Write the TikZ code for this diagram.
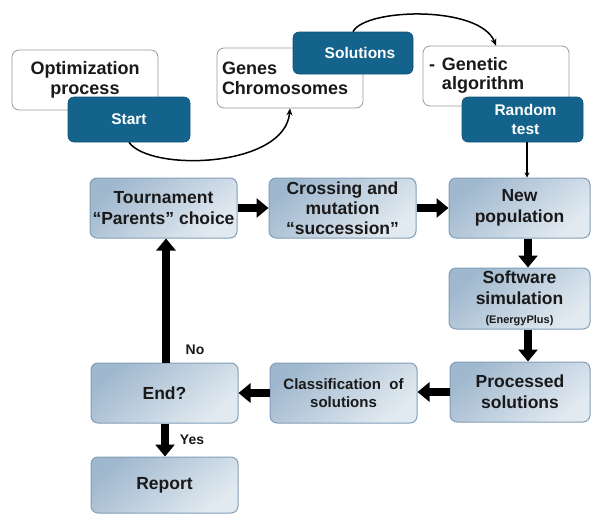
\documentclass[tikz,border=0pt]{standalone}
\usepackage{fontspec}
\setmainfont{Liberation Sans}
\usetikzlibrary{arrows.meta}
\definecolor{dblue}{RGB}{20,99,140}
\definecolor{flowA}{RGB}{160,184,206}
\definecolor{flowB}{RGB}{226,234,241}
\definecolor{flowBorder}{RGB}{128,158,184}
\definecolor{txt}{RGB}{25,25,25}
\begin{document}
\begin{tikzpicture}[x=1pt,y=-1pt,
  whitebox/.style={draw=black!40, line width=0.8pt, rounded corners=7pt, fill=white,
    inner sep=0pt, text=txt, font=\fontsize{18}{20}\selectfont\bfseries},
  darkbox/.style={draw=dblue!85!black, line width=0.6pt, fill=dblue, rounded corners=6pt,
    inner sep=0pt, text=white, align=center, font=\fontsize{15.5}{19}\selectfont\bfseries},
  flowbox/.style={draw=flowBorder, line width=1pt, rounded corners=7pt,
    top color=flowA, bottom color=flowB, shading angle=40,
    inner sep=0pt, align=center, text=txt, font=\fontsize{17.5}{21}\selectfont\bfseries},
  bigarrow/.style={line width=8pt, -{Triangle[width=19pt,length=12pt]}},
  curvearrow/.style={line width=1.5pt, -{Stealth[length=7pt,width=6pt]}},
  thinarrow/.style={line width=1.3pt, -{Stealth[length=5pt,width=5pt]}},
  lbl/.style={inner sep=0pt, text=txt, font=\fontsize{14}{16}\selectfont\bfseries}
]
\useasboundingbox (0,0) rectangle (592,515);

% top row: white boxes
\node[whitebox, minimum width=146pt, minimum height=60pt, align=center] (opt) at (85,80)
  {Optimization\\process};
\node[whitebox, minimum width=146pt, minimum height=60pt, text width=136pt, align=left] (genes) at (290,78)
  {Genes\\Chromosomes};
\node[whitebox, minimum width=146pt, minimum height=60pt, text width=134pt, align=left] (gen) at (496,76)
  {\begin{tabular}{@{}l@{\hspace{7pt}}l@{}}-&Genetic\\[-1pt]&algorithm\end{tabular}};

% dark boxes
\node[darkbox, minimum width=122pt, minimum height=45pt] (start) at (129,119.5) {Start};
\node[darkbox, minimum width=120pt, minimum height=42pt] (sol) at (353,53) {\hspace{14pt}Solutions};
\node[darkbox, minimum width=121pt, minimum height=45pt] (rand) at (522.5,119.5) {\hspace{6pt}Random\\\hspace{6pt}test};

% curved connectors
\draw[curvearrow] (start.south) .. controls (150,172) and (285,168) .. (genes.south);
\draw[curvearrow] (sol.north) .. controls (365,8) and (480,5) .. (gen.north);

% flow boxes
\node[flowbox, minimum width=147pt, minimum height=60pt] (tour) at (163.5,208)
  {Tournament\\“Parents” choice};
\node[flowbox, minimum width=147pt, minimum height=60pt] (cross) at (342.5,208)
  {Crossing and\\[-1pt]mutation\\[-1pt]“succession”};
\node[flowbox, minimum width=141pt, minimum height=60pt] (newp) at (519.5,208)
  {New\\population};
\node[flowbox, minimum width=141pt, minimum height=61pt] (soft) at (519.5,298.5)
  {Software\\simulation\\[-2pt]{\fontsize{11}{12}\selectfont (EnergyPlus)}};
\node[flowbox, minimum width=140pt, minimum height=60pt] (proc) at (520,392)
  {Processed\\solutions};
\node[flowbox, minimum width=147pt, minimum height=60pt,
  font=\fontsize{15}{17.5}\selectfont\bfseries] (class) at (343.5,393)
  {Classification\ \ of\\solutions};
\node[flowbox, minimum width=147pt, minimum height=60pt] (endq) at (164.5,393) {End?};
\node[flowbox, minimum width=147pt, minimum height=56pt] (report) at (164.5,485) {Report};

% connectors
\draw[thinarrow] ([xshift=4.5pt]rand.south) -- ([xshift=4.5pt]rand.south |- newp.north);
\draw[bigarrow] (tour.east) -- (cross.west);
\draw[bigarrow] (cross.east) -- (newp.west);
\draw[bigarrow] ([xshift=8.5pt]newp.south) -- ([xshift=8.5pt]soft.north);
\draw[bigarrow] ([xshift=8.5pt]soft.south) -- ([xshift=8pt]proc.north);
\draw[bigarrow] (proc.west) -- (proc.west -| class.east);
\draw[bigarrow] (class.west) -- (class.west -| endq.east);
\draw[bigarrow] ([xshift=1.5pt]endq.north) -- ([xshift=1.5pt]endq.north |- tour.south);
\draw[bigarrow] ([xshift=0.5pt]endq.south) -- ([xshift=0.5pt]report.north);

% labels
\node[lbl] (no) at (195,350) {No};
\node[lbl] (yes) at (192,440) {Yes};
\end{tikzpicture}
\end{document}
